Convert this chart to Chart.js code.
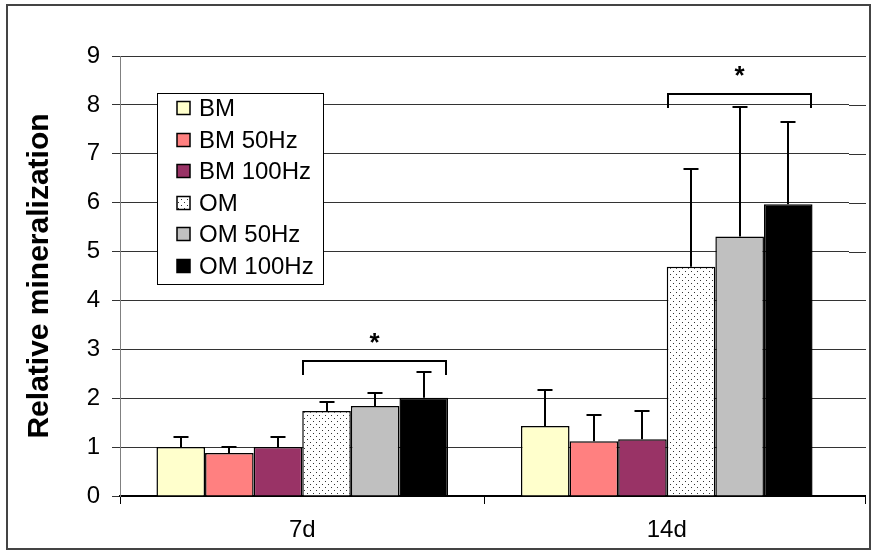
<!DOCTYPE html>
<html>
<head>
<meta charset="utf-8">
<script src="https://cdn.jsdelivr.net/npm/chart.js@4.4.1/dist/chart.umd.min.js"></script>
<style>
  html, body { margin: 0; padding: 0; background: #fff; }
  #wrap { width: 877px; height: 555px; position: relative; }
</style>
</head>
<body>
<div id="wrap"><canvas id="c" width="877" height="555"></canvas></div>
<script>
// ---- data ----
const categories = ['7d', '14d'];
const seriesNames = ['BM', 'BM 50Hz', 'BM 100Hz', 'OM', 'OM 50Hz', 'OM 100Hz'];
const bmValues      = [1.00, 1.43];
const bm50Values    = [0.88, 1.12];
const bm100Values   = [1.00, 1.16];
const omValues      = [1.74, 4.69];
const om50Values    = [1.84, 5.31];
const om100Values   = [2.01, 5.97];
const bmErrors      = [0.20, 0.73];
const bm50Errors    = [0.13, 0.54];
const bm100Errors   = [0.20, 0.58];
const omErrors      = [0.19, 2.00];
const om50Errors    = [0.26, 2.65];
const om100Errors   = [0.53, 1.69];
const yTickValues   = [0, 1, 2, 3, 4, 5, 6, 7, 8, 9];
const bracketLevels = [2.76, 8.22];   // significance bracket heights (y value)
const bracketLabels = ['*', '*'];
const yTitle = 'Relative mineralization';

// ---- styles ----
const FONT = "'Liberation Sans', Arial, sans-serif";
const PLOT_RIGHT_EDGE = 866;
function dotPattern() {
  const t = document.createElement('canvas');
  t.width = 6; t.height = 6;
  const g = t.getContext('2d');
  g.fillStyle = '#fff'; g.fillRect(0, 0, 6, 6);
  g.fillStyle = '#333';
  g.fillRect(1, 1, 1, 1);
  g.fillRect(4, 4, 1, 1);
  return document.getElementById('c').getContext('2d').createPattern(t, 'repeat');
}
const omPattern = dotPattern();
const fills = ['#FFFFCC', '#FF8080', '#993366', omPattern, '#C0C0C0', '#000000'];
const valueSets = [bmValues, bm50Values, bm100Values, omValues, om50Values, om100Values];
const errorSets = [bmErrors, bm50Errors, bm100Errors, omErrors, om50Errors, om100Errors];

const datasets = seriesNames.map((name, i) => ({
  label: name,
  data: valueSets[i],
  errors: errorSets[i],
  backgroundColor: fills[i],
  borderColor: '#000',
  borderWidth: 1.5,
  categoryPercentage: 0.8,
  barPercentage: 1.0
}));

// extend the gridlines / base line to the right edge of the plot frame
const gridExtendPlugin = {
  id: 'gridExtend',
  beforeDatasetsDraw(chart) {
    const ctx = chart.ctx, y = chart.scales.y, area = chart.chartArea;
    ctx.save();
    ctx.strokeStyle = '#333';
    ctx.lineWidth = 1;
    yTickValues.forEach(v => {
      const py = Math.round(y.getPixelForValue(v)) + 0.5;
      ctx.beginPath();
      ctx.moveTo(area.right, py);
      ctx.lineTo(PLOT_RIGHT_EDGE, py);
      ctx.stroke();
    });
    ctx.restore();
  },
  afterDraw(chart) {
    const ctx = chart.ctx, area = chart.chartArea;
    const by = Math.round(area.bottom);
    ctx.save();
    ctx.strokeStyle = '#000';
    ctx.lineWidth = 2;
    ctx.beginPath();
    ctx.moveTo(area.right - 1, by);
    ctx.lineTo(PLOT_RIGHT_EDGE, by);
    ctx.stroke();
    ctx.lineWidth = 1;
    ctx.beginPath();
    ctx.moveTo(PLOT_RIGHT_EDGE - 0.5, by);
    ctx.lineTo(PLOT_RIGHT_EDGE - 0.5, by + 8);
    ctx.stroke();
    ctx.restore();
  }
};

const errorBarPlugin = {
  id: 'errorBars',
  afterDatasetsDraw(chart) {
    const ctx = chart.ctx, y = chart.scales.y;
    ctx.save();
    ctx.strokeStyle = '#000';
    ctx.lineWidth = 2;
    chart.data.datasets.forEach((ds, i) => {
      const meta = chart.getDatasetMeta(i);
      meta.data.forEach((el, j) => {
        const top = Math.round(y.getPixelForValue(ds.data[j] + ds.errors[j]));
        const x = Math.round(el.x);
        ctx.beginPath();
        ctx.moveTo(x, el.y);
        ctx.lineTo(x, top);
        ctx.moveTo(x - 7.5, top);
        ctx.lineTo(x + 7.5, top);
        ctx.stroke();
      });
    });
    ctx.restore();
  }
};

const decorPlugin = {
  id: 'decor',
  afterDraw(chart) {
    const ctx = chart.ctx, y = chart.scales.y;
    ctx.save();
    // significance brackets
    const m0 = chart.getDatasetMeta(3), m1 = chart.getDatasetMeta(5);
    ctx.strokeStyle = '#000';
    ctx.lineWidth = 2;
    bracketLevels.forEach((lvl, j) => {
      const a = m0.data[j], b = m1.data[j];
      const left = Math.round(a.x - a.width / 2 + 1);
      const right = Math.round(b.x + b.width / 2 - 2);
      const top = Math.round(y.getPixelForValue(lvl));
      ctx.beginPath();
      ctx.moveTo(left, top + 14);
      ctx.lineTo(left, top);
      ctx.lineTo(right, top);
      ctx.lineTo(right, top + 14);
      ctx.stroke();
      ctx.fillStyle = '#000';
      ctx.font = 'bold 26px ' + FONT;
      ctx.textAlign = 'center';
      ctx.textBaseline = 'middle';
      ctx.fillText(bracketLabels[j], (left + right) / 2, top - 17);
    });
    // legend
    const lx = 157, ly = 93, lw = 166, lh = 191;
    ctx.fillStyle = '#fff';
    ctx.fillRect(lx, ly, lw, lh);
    ctx.strokeStyle = '#000';
    ctx.lineWidth = 1;
    ctx.strokeRect(lx + 0.5, ly + 0.5, lw, lh);
    ctx.font = '24px ' + FONT;
    ctx.textAlign = 'left';
    ctx.textBaseline = 'middle';
    seriesNames.forEach((name, i) => {
      const cy = Math.round(108 + i * 31.6);
      ctx.fillStyle = fills[i];
      ctx.fillRect(177, cy - 6.5, 13, 13);
      ctx.lineWidth = 1.5;
      ctx.strokeStyle = '#000';
      ctx.strokeRect(177, cy - 6.5, 13, 13);
      ctx.fillStyle = '#000';
      ctx.fillText(name, 199, cy + 1);
    });
    // outer frame
    ctx.strokeStyle = '#444';
    ctx.lineWidth = 2;
    ctx.strokeRect(7, 5, 863, 544);
    ctx.restore();
  }
};

new Chart(document.getElementById('c'), {
  type: 'bar',
  data: { labels: categories, datasets },
  options: {
    responsive: false,
    maintainAspectRatio: false,
    animation: false,
    devicePixelRatio: 1,
    layout: { padding: { left: 0, top: 56, right: 28, bottom: 0 } },
    plugins: { legend: { display: false }, tooltip: { enabled: false } },
    scales: {
      x: {
        afterFit(s) { s.height = 59; },
        grid: {
          display: true, drawOnChartArea: false, drawTicks: true, tickLength: 8, offset: true, lineWidth: 1,
          color: (c) => (c.type === 'tick' ? '#000' : 'rgba(0,0,0,0)')
        },
        border: { display: true, color: '#000', width: 2 },
        ticks: { color: '#000', font: { family: FONT, size: 24 }, padding: 12 }
      },
      y: {
        min: 0, max: 9,
        afterFit(s) { s.width = 120; },
        afterBuildTicks(s) { s.ticks = yTickValues.map(v => ({ value: v })); },
        grid: { color: '#333', lineWidth: 1, tickLength: 8 },
        border: { display: true, color: '#808080', width: 1 },
        ticks: { color: '#000', font: { family: FONT, size: 24 }, padding: 12 },
        title: {
          display: true, text: yTitle, color: '#000',
          font: { family: FONT, size: 30, weight: 'bold' },
          padding: { top: 22, bottom: 0 }
        }
      }
    }
  },
  plugins: [gridExtendPlugin, errorBarPlugin, decorPlugin]
});
</script>
</body>
</html>
